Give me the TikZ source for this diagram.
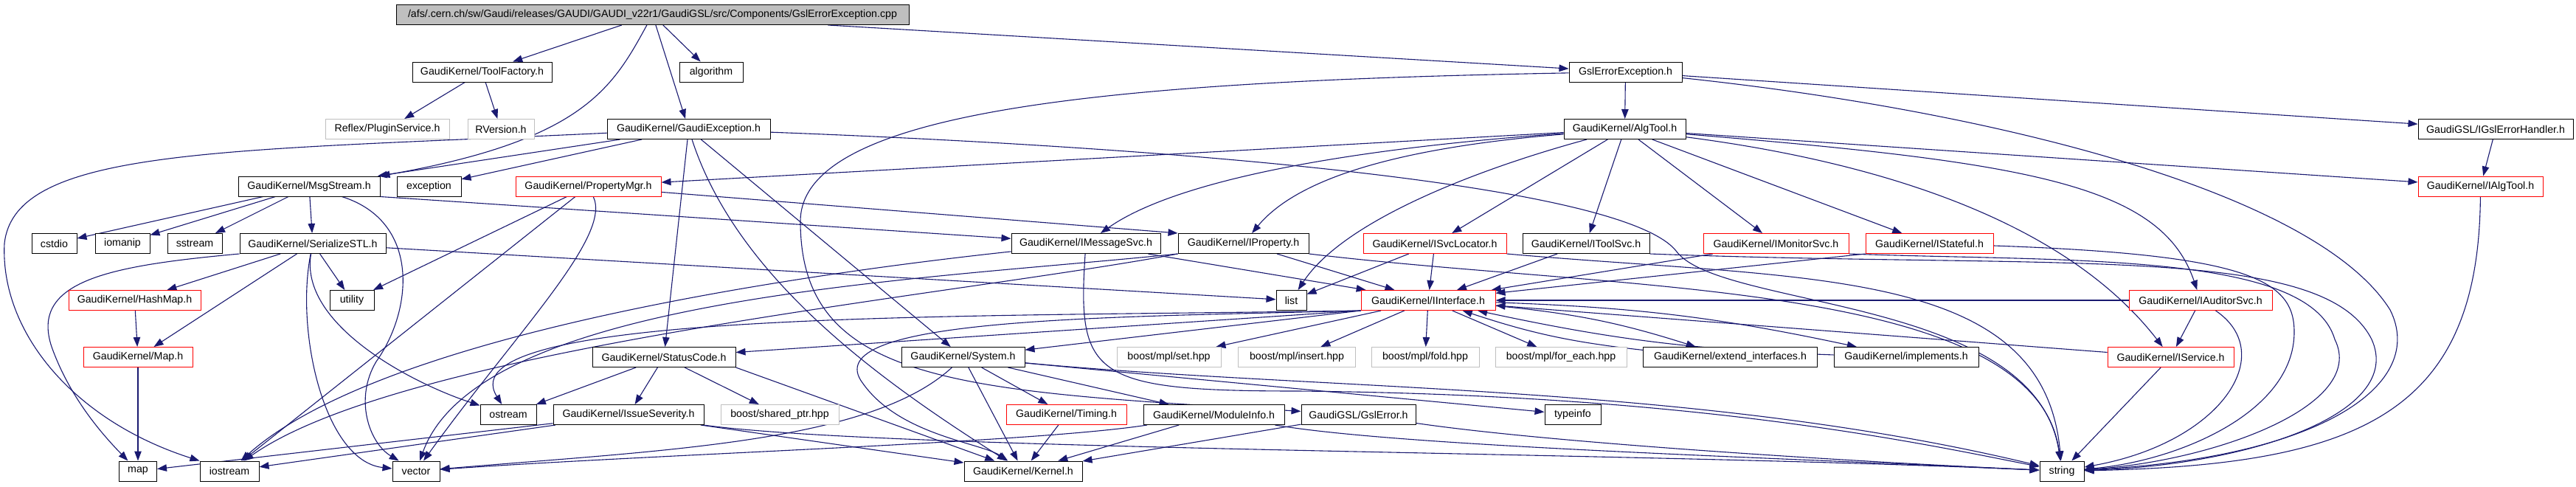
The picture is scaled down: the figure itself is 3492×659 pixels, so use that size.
\documentclass[tikz,border=0pt]{standalone}
\usepackage{fontspec}
\setmainfont{Liberation Sans}
\usetikzlibrary{arrows.meta,backgrounds}
\definecolor{edgeblue}{RGB}{25,25,112}
\definecolor{extgray}{RGB}{191,191,191}

\begin{document}
\begin{tikzpicture}[x=1pt, y=-1pt,
  font=\fontsize{14.2}{16}\selectfont,
  hdr/.style={draw=black, fill=white, line width=1pt, minimum height=27pt, inner sep=0pt},
  redhdr/.style={hdr, draw=red},
  exthdr/.style={hdr, draw=extgray},
  srchdr/.style={hdr, fill=extgray},
  dep/.style={draw=edgeblue, line width=1.1pt, -{Triangle[length=13pt,width=9.5pt]}},
  ]
  \useasboundingbox (0,0) rectangle (3492,659);

  %%% row 0 : the source file %%%
  \node[srchdr, minimum width=695pt] (src) at (884.5,20) {/afs/.cern.ch/sw/Gaudi/releases/GAUDI/GAUDI\_v22r1/GaudiGSL/src/Components/GslErrorException.cpp};

  %%% row 1 %%%
  \node[hdr, minimum width=189pt] (toolfac)   at (653.5,97.5)  {GaudiKernel/ToolFactory.h};
  \node[hdr, minimum width=86pt]  (algorithm) at (964,97.5)    {algorithm};
  \node[hdr, minimum width=153pt] (gslexch)   at (2203.5,97.5) {GslErrorException.h};

  %%% row 2 %%%
  \node[exthdr, minimum width=168pt] (plugin)   at (525,175)    {Reflex/PluginService.h};
  \node[exthdr, minimum width=90pt]  (rversion) at (679,175)    {RVersion.h};
  \node[hdr, minimum width=221pt]    (gaudiexc) at (933.5,175)  {GaudiKernel/GaudiException.h};
  \node[hdr, minimum width=165pt]    (algtool)  at (2202.5,175) {GaudiKernel/AlgTool.h};
  \node[hdr, minimum width=210pt]    (igslerr)  at (3383,175)   {GaudiGSL/IGslErrorHandler.h};

  %%% row 3 %%%
  \node[hdr, minimum width=192pt]    (msgstream) at (419,252.5)    {GaudiKernel/MsgStream.h};
  \node[hdr, minimum width=87pt]     (exception) at (581.5,252.5)  {exception};
  \node[redhdr, minimum width=197pt] (propmgr)   at (797.5,252.5)  {GaudiKernel/PropertyMgr.h};
  \node[redhdr, minimum width=169pt] (ialgtool)  at (3362.5,252.5) {GaudiKernel/IAlgTool.h};

  %%% row 4 %%%
  \node[hdr, minimum width=61pt]     (cstdio)    at (73.5,330)   {cstdio};
  \node[hdr, minimum width=74pt]     (iomanip)   at (166,330)    {iomanip};
  \node[hdr, minimum width=74pt]     (sstream)   at (264,330)    {sstream};
  \node[hdr, minimum width=198pt]    (serial)    at (424,330)    {GaudiKernel/SerializeSTL.h};
  \node[hdr, minimum width=202pt]    (imsgsvc)   at (1472,330)   {GaudiKernel/IMessageSvc.h};
  \node[hdr, minimum width=177pt]    (iprop)     at (1685.5,330) {GaudiKernel/IProperty.h};
  \node[redhdr, minimum width=194pt] (isvcloc)   at (1945,330)   {GaudiKernel/ISvcLocator.h};
  \node[hdr, minimum width=172pt]    (itoolsvc)  at (2150,330)   {GaudiKernel/IToolSvc.h};
  \node[redhdr, minimum width=197pt] (imonsvc)   at (2407.5,330) {GaudiKernel/IMonitorSvc.h};
  \node[redhdr, minimum width=173pt] (istateful) at (2615.5,330) {GaudiKernel/IStateful.h};

  %%% row 5 %%%
  \node[redhdr, minimum width=179pt] (hashmap)    at (182.5,407) {GaudiKernel/HashMap.h};
  \node[hdr, minimum width=60pt]     (utility)    at (477,407)   {utility};
  \node[hdr, minimum width=41pt]     (list)       at (1750.5,407){list};
  \node[redhdr, minimum width=182pt] (iinterface) at (1936,407)  {GaudiKernel/IInterface.h};
  \node[redhdr, minimum width=194pt] (iauditor)   at (2983,407)  {GaudiKernel/IAuditorSvc.h};

  %%% row 6 %%%
  \node[redhdr, minimum width=148pt] (maph)       at (187,484)    {GaudiKernel/Map.h};
  \node[hdr, minimum width=194pt]    (statuscode) at (900,484)    {GaudiKernel/StatusCode.h};
  \node[hdr, minimum width=167pt]    (system)     at (1305.5,484) {GaudiKernel/System.h};
  \node[exthdr, minimum width=141pt] (mplset)     at (1584.5,484) {boost/mpl/set.hpp};
  \node[exthdr, minimum width=159pt] (mplinsert)  at (1758,484)   {boost/mpl/insert.hpp};
  \node[exthdr, minimum width=146pt] (mplfold)    at (1932,484)   {boost/mpl/fold.hpp};
  \node[exthdr, minimum width=178pt] (mplforeach) at (2116,484)   {boost/mpl/for\_each.hpp};
  \node[hdr, minimum width=236pt]    (extend)     at (2345.5,484) {GaudiKernel/extend\_interfaces.h};
  \node[hdr, minimum width=196pt]    (implements) at (2584,484)   {GaudiKernel/implements.h};
  \node[redhdr, minimum width=171pt] (iservice)   at (2942.5,484) {GaudiKernel/IService.h};

  %%% row 7 %%%
  \node[hdr, minimum width=76pt]     (ostream)    at (689,562)    {ostream};
  \node[hdr, minimum width=204pt]    (issuesev)   at (852,562)    {GaudiKernel/IssueSeverity.h};
  \node[exthdr, minimum width=160pt] (sharedptr)  at (1057,562)   {boost/shared\_ptr.hpp};
  \node[redhdr, minimum width=163pt] (timing)     at (1445.5,562) {GaudiKernel/Timing.h};
  \node[hdr, minimum width=191pt]    (moduleinfo) at (1645.5,562) {GaudiKernel/ModuleInfo.h};
  \node[hdr, minimum width=155pt]    (gslerror)   at (1841.5,562) {GaudiGSL/GslError.h};
  \node[hdr, minimum width=76pt]     (typeinfo)   at (2132,562)   {typeinfo};

  %%% row 8 %%%
  \node[hdr, minimum width=51pt]  (map)      at (187,638.5)  {map};
  \node[hdr, minimum width=80pt]  (iostream) at (311,638.5)  {iostream};
  \node[hdr, minimum width=64pt]  (vector)   at (564,638.5)  {vector};
  \node[hdr, minimum width=160pt] (kernel)   at (1387,638.5) {GaudiKernel/Kernel.h};
  \node[hdr, minimum width=60pt]  (string)   at (2795,638.5) {string};

  \begin{scope}[on background layer]
  %%% source file %%%
  \foreach \t in {toolfac,algorithm,gaudiexc,gslexch} \draw[dep] (src) -- (\t);
  \draw[dep] (src) .. controls (830,120) and (790,190) .. (msgstream.north east);

  %%% ToolFactory.h %%%
  \foreach \t in {plugin,rversion} \draw[dep] (toolfac) -- (\t);

  %%% GaudiException.h %%%
  \foreach \t in {msgstream,exception,statuscode,system} \draw[dep] (gaudiexc) -- (\t);
  \draw[dep] (gaudiexc) .. controls (1000,380) and (1200,520) .. (kernel);
  \draw[dep] (gaudiexc) .. controls (300,205) and (20,200) .. (6,330) .. controls (0,450) and (100,570) .. (iostream.north west);
  \draw[dep] (gaudiexc) .. controls (1600,200) and (2200,250) .. (2272,340) .. controls (2330,420) and (2760,400) .. (string);

  %%% GslErrorException.h %%%
  \foreach \t in {algtool,igslerr} \draw[dep] (gslexch) -- (\t);
  \draw[dep] (gslexch) .. controls (1500,110) and (1085,150) .. (1085,300) .. controls (1085,520) and (1300,530) .. (gslerror);
  \draw[dep] (gslexch) .. controls (2700,150) and (3140,260) .. (3240,420) .. controls (3290,520) and (3150,620) .. (string);
  \draw[dep] (igslerr) -- (ialgtool);

  %%% AlgTool.h %%%
  \foreach \t in {propmgr,isvcloc,itoolsvc,imonsvc,istateful,ialgtool} \draw[dep] (algtool) -- (\t);
  \draw[dep] (algtool) .. controls (1850,200) and (1600,240) .. (imsgsvc);
  \draw[dep] (algtool) .. controls (1900,200) and (1760,240) .. (iprop);
  \draw[dep] (algtool) .. controls (2000,230) and (1820,300) .. (list);
  \draw[dep] (algtool) .. controls (2750,220) and (2930,250) .. (iauditor);
  \draw[dep] (algtool) .. controls (2550,220) and (2800,300) .. (iservice);

  %%% MsgStream.h %%%
  \foreach \t in {cstdio,iomanip,sstream,serial} \draw[dep] (msgstream) -- (\t);
  \draw[dep] (msgstream.south east) -- (imsgsvc);
  \draw[dep] (msgstream) .. controls (570,300) and (560,420) .. (510,490) .. controls (480,540) and (500,600) .. (vector);

  %%% SerializeSTL.h %%%
  \foreach \t in {hashmap,maph,utility,list} \draw[dep] (serial) -- (\t);
  \draw[dep] (serial.south west) .. controls (150,360) and (40,380) .. (70,470) .. controls (95,540) and (140,590) .. (map);
  \draw[dep] (serial) .. controls (400,450) and (440,625) .. (vector);
  \draw[dep] (serial) .. controls (405,440) and (560,520) .. (ostream);
  \draw[dep] (hashmap) -- (maph);
  \draw[dep] (maph) -- (map);

  %%% PropertyMgr.h %%%
  \foreach \t in {utility,iostream} \draw[dep] (propmgr) -- (\t);
  \draw[dep] (propmgr) -- (iprop.north west);
  \draw[dep] (propmgr) .. controls (830,320) and (700,450) .. (vector);

  %%% IMessageSvc.h, IProperty.h %%%
  \draw[dep] (imsgsvc) -- (iinterface);
  \draw[dep] (imsgsvc) .. controls (1100,370) and (520,450) .. (iostream);
  \draw[dep] (imsgsvc) .. controls (1460,510) and (1480,530) .. (1760,530) .. controls (2300,535) and (2600,600) .. (string);
  \draw[dep] (iprop) -- (iinterface);
  \draw[dep] (iprop.south west) .. controls (1300,400) and (550,470) .. (iostream);
  \draw[dep] (iprop.south west) .. controls (1250,380) and (650,400) .. (vector);
  \draw[dep] (iprop.south east) .. controls (2200,395) and (2760,380) .. (string);

  %%% service interfaces %%%
  \foreach \t in {iinterface,list} \draw[dep] (isvcloc) -- (\t);
  \draw[dep] (isvcloc.south east) .. controls (2450,380) and (2770,360) .. (string);
  \draw[dep] (itoolsvc) -- (iinterface);
  \draw[dep] (itoolsvc.south east) .. controls (2800,365) and (3150,330) .. (3215,460) .. controls (3260,560) and (3050,630) .. (string);
  \draw[dep] (imonsvc) -- (iinterface);
  \draw[dep] (imonsvc.south east) .. controls (2800,355) and (3130,340) .. (3165,460) .. controls (3210,550) and (3000,625) .. (string);
  \draw[dep] (istateful.south west) -- (iinterface);
  \draw[dep] (istateful) .. controls (3050,345) and (3110,380) .. (3110,450) .. controls (3110,560) and (2950,625) .. (string);
  \foreach \t in {iservice,iinterface} \draw[dep] (iauditor) -- (\t);
  \draw[dep] (iauditor) .. controls (3090,480) and (3010,600) .. (string);
  \foreach \t in {iinterface,string} \draw[dep] (iservice) -- (\t);
  \draw[dep] (ialgtool) .. controls (3360,560) and (3200,630) .. (string);

  %%% IInterface.h %%%
  \foreach \t in {mplset,mplinsert,mplfold,mplforeach} \draw[dep] (iinterface) -- (\t);
  \foreach \t in {system,statuscode} \draw[dep] (iinterface.south west) -- (\t);
  \draw[dep] (iinterface.south west) .. controls (1300,430) and (600,420) .. (ostream);
  \draw[dep] (iinterface.south west) .. controls (1500,430) and (1100,430) .. (1170,520) .. controls (1220,590) and (1330,600) .. (kernel);
  \draw[dep] (iinterface) to[bend left=6] (extend);
  \draw[dep] (extend) to[bend left=6] (iinterface);
  \draw[dep] (iinterface) to[bend left=5] (implements);
  \draw[dep] (implements) to[bend left=5] (iinterface);

  %%% System.h, StatusCode.h %%%
  \foreach \t in {kernel,timing,moduleinfo,typeinfo} \draw[dep] (system) -- (\t);
  \draw[dep] (system) .. controls (1800,530) and (2300,520) .. (string);
  \draw[dep] (system) .. controls (1180,600) and (900,610) .. (vector);
  \foreach \t in {ostream,issuesev,sharedptr} \draw[dep] (statuscode) -- (\t);
  \draw[dep] (statuscode.south east) -- (kernel);

  %%% lower row headers %%%
  \foreach \t in {map,iostream,kernel} \draw[dep] (issuesev) -- (\t);
  \draw[dep] (issuesev) .. controls (1200,610) and (2200,612) .. (string);
  \draw[dep] (timing) -- (kernel);
  \draw[dep] (moduleinfo) -- (kernel);
  \draw[dep] (moduleinfo) .. controls (1400,600) and (900,615) .. (vector);
  \draw[dep] (moduleinfo) .. controls (1900,605) and (2400,620) .. (string);
  \draw[dep] (gslerror) -- (kernel);
  \draw[dep] (gslerror) .. controls (2100,600) and (2500,625) .. (string);
  \end{scope}
\end{tikzpicture}
\end{document}
